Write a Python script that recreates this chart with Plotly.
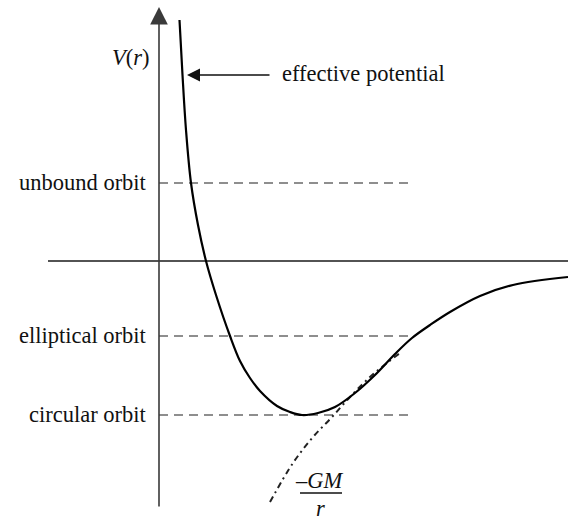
import plotly.graph_objects as go

# Effective potential V(r), sampled points (r, V)
curve_r = [20.5, 23.5, 27, 32, 39, 47, 57, 71, 81, 91, 101, 118, 131, 143, 159, 176, 196, 216, 236, 253, 271, 291, 321, 354, 409]
curve_v = [241, 186, 131, 78, 36, 0, -34, -75, -100, -117, -130, -145, -151, -154, -152, -146, -132, -114, -93, -77, -64, -51, -35, -24, -16]

# Newtonian term -GM/r
newton_r = [111, 134, 154, 173, 191, 211, 228, 241]
newton_v = [-241, -202, -176, -156, -136, -116, -102, -92]

# Energy levels of the three orbit types
level_names = ["unbound orbit", "elliptical orbit", "circular orbit"]
level_values = [78, -75, -154]
level_r_end = 253

SERIF = "Liberation Serif, Times New Roman, serif"
INK = "#111111"

fig = go.Figure()

# energy level dashed lines
for v in level_values:
    fig.add_trace(go.Scatter(
        x=[0, level_r_end], y=[v, v], mode="lines",
        line=dict(color="#6a6a6a", width=1.6, dash="9px,6px"),
        hoverinfo="skip", showlegend=False))

# horizontal axis
fig.add_trace(go.Scatter(
    x=[-111, 409], y=[0, 0], mode="lines",
    line=dict(color="#1a1a1a", width=1.6),
    hoverinfo="skip", showlegend=False))

# -GM/r asymptote
fig.add_trace(go.Scatter(
    x=newton_r, y=newton_v, mode="lines", line_shape="spline",
    line=dict(color="#222222", width=2.0, dash="6px,4px,2px,4px"),
    hoverinfo="skip", showlegend=False))

# effective potential
fig.add_trace(go.Scatter(
    x=curve_r, y=curve_v, mode="lines", line_shape="spline",
    line=dict(color="#000000", width=2.2, smoothing=1.0),
    hoverinfo="skip", showlegend=False))

annotations = [
    # vertical axis with arrow
    dict(x=0, y=254, ax=0, ay=-247, xref="x", yref="y", axref="x", ayref="y",
         showarrow=True, arrowhead=2, arrowsize=2.2, arrowwidth=1.6,
         arrowcolor="#3a3a3a", text=""),
    # pointer to the curve
    dict(x=28, y=186, ax=112, ay=186, xref="x", yref="y", axref="x", ayref="y",
         showarrow=True, arrowhead=2, arrowsize=2.0, arrowwidth=1.3,
         arrowcolor="#111111", text=""),
    dict(x=121, y=188, xref="x", yref="y", text="effective potential",
         showarrow=False, xanchor="left", yanchor="middle",
         font=dict(family=SERIF, size=22.5, color=INK)),
    dict(x=-28, y=204, xref="x", yref="y", text="<i>V</i>(<i>r</i>)",
         showarrow=False, xanchor="center", yanchor="middle",
         font=dict(family=SERIF, size=22.5, color=INK)),
    dict(x=160, y=-219, xref="x", yref="y", text="<i>–GM</i>",
         showarrow=False, xanchor="center", yanchor="middle",
         font=dict(family=SERIF, size=22.5, color=INK)),
    dict(x=161, y=-247, xref="x", yref="y", text="<i>r</i>",
         showarrow=False, xanchor="center", yanchor="middle",
         font=dict(family=SERIF, size=22.5, color=INK)),
]
for name, v in zip(level_names, level_values):
    annotations.append(dict(
        x=-10, y=v + 1, xref="x", yref="y", text=name, showarrow=False,
        xanchor="right", yanchor="middle",
        font=dict(family=SERIF, size=22.5, color=INK)))

# fraction bar of -GM/r
fig.add_shape(type="line", x0=141, x1=183, y0=-232, y1=-232,
              xref="x", yref="y", line=dict(color=INK, width=1.6))

fig.update_layout(
    width=568, height=520,
    margin=dict(l=0, r=0, t=0, b=0),
    paper_bgcolor="white", plot_bgcolor="white",
    xaxis=dict(range=[-159, 409], visible=False, fixedrange=True),
    yaxis=dict(range=[-259, 261], visible=False, fixedrange=True),
    annotations=annotations,
    showlegend=False,
)

fig.write_html("out.html")
